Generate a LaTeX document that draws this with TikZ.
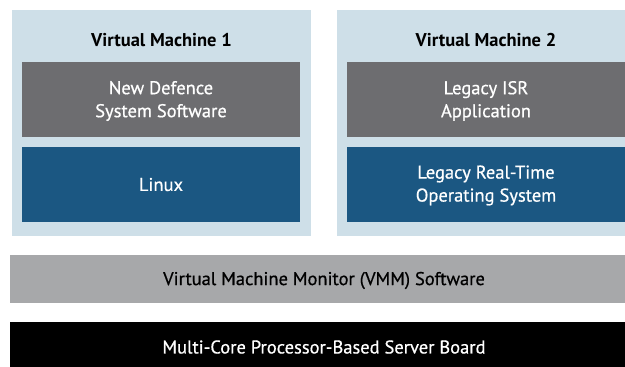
\documentclass[tikz,border=0pt]{standalone}
\usepackage{fontspec}
\setmainfont{PT Sans}
\newfontfamily\mediumfont{PT Sans}[FakeBold=0.6]
\definecolor{vmbg}{HTML}{CEDFE8}
\definecolor{appgray}{HTML}{6D6D70}
\definecolor{osblue}{HTML}{1B5782}
\definecolor{vmmgray}{HTML}{A7A8AA}
\begin{document}
\begin{tikzpicture}[x=1pt,y=-1pt,
  layer/.style={inner sep=0pt, align=center, font=\mediumfont\fontsize{18.5}{23}\selectfont, text=white},
  title/.style={inner sep=0pt, font=\bfseries\fontsize{18.5}{23}\selectfont, text=black}]
\useasboundingbox (0,0) rectangle (625,367);
% virtual machine panels
\fill[vmbg] (12,10) rectangle (311,236);
\fill[vmbg] (337,10) rectangle (625,236);
\node[title] (vm1) at (161.5,40) {Virtual Machine 1};
\node[title] (vm2) at (486,40) {Virtual Machine 2};
% guest layers
\fill[appgray] (22,62) rectangle (300,137);
\fill[osblue] (22,147) rectangle (300,222);
\fill[appgray] (347,62) rectangle (625,137);
\fill[osblue] (347,147) rectangle (625,222);
\node[layer] (app1) at (161,101) {New Defence\\System Software};
\node[layer] (os1) at (161,184.5) {Linux};
\node[layer] (app2) at (486,101) {Legacy ISR\\Application};
\node[layer] (os2) at (486,185.5) {Legacy Real-Time\\Operating System};
% host layers
\fill[vmmgray] (10,255) rectangle (625,303);
\fill[black] (10,322) rectangle (625,367);
\node[layer, text=black] (vmm) at (324,280.5) {Virtual Machine Monitor (VMM) Software};
\node[layer] (board) at (324,347) {Multi-Core Processor-Based Server Board};
\end{tikzpicture}
\end{document}
